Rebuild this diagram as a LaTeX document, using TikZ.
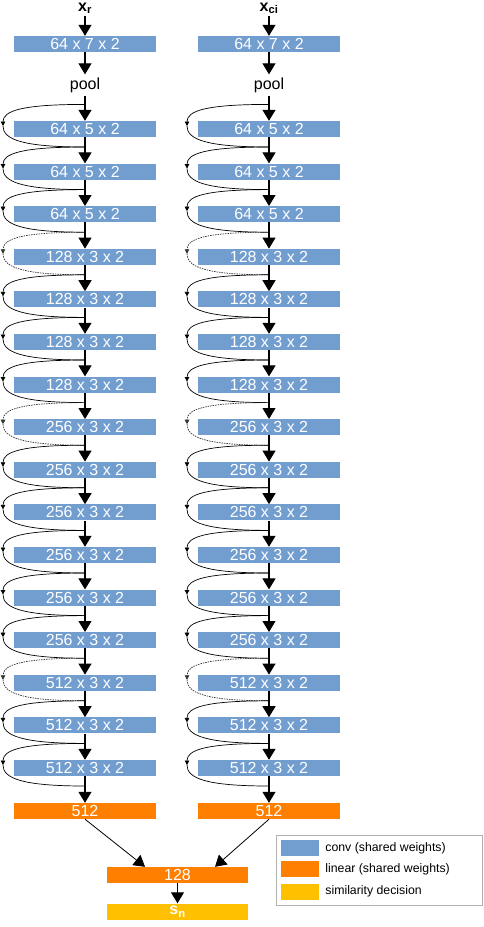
\documentclass[tikz,border=0pt]{standalone}
\usepackage{fontspec}
\setmainfont{Liberation Sans}
\usetikzlibrary{arrows.meta,calc,positioning}
\definecolor{conv}{RGB}{114,157,207}
\definecolor{lin}{RGB}{255,128,0}
\definecolor{decide}{RGB}{255,192,0}

\begin{document}
\begin{tikzpicture}[x=1pt,y=-1pt,
 layer/.style={minimum width=142pt,minimum height=16pt,inner sep=0pt,text=white,font=\fontsize{16}{18}\selectfont},
 txt/.style={font=\fontsize{16}{18}\selectfont},
 keytxt/.style={font=\fontsize{12.3}{14}\selectfont,inner sep=0pt},
 key/.style={minimum width=38pt,minimum height=16pt,inner sep=0pt},
 flow/.style={line width=1.1pt,-{Triangle[length=11pt,width=13pt]}},
 skip/.style={line width=0.7pt},
 proj/.style={skip,black!80,dash pattern=on 1.5pt off 1pt},
 turn/.style={-{Triangle[length=4.5pt,width=4.5pt]}}]
\useasboundingbox (0,0) rectangle (484,927);

% residual shortcuts, drawn first so the layers sit on top
\foreach \col/\x in {l/85,r/269}
 \foreach \st [count=\k] in {skip,skip,skip,proj,skip,skip,skip,proj,skip,skip,skip,skip,skip,proj,skip,skip}{
  \pgfmathsetmacro\y{129+42.6*(\k-1)}
  \coordinate (\col\k-from) at (\x,\y-24.6);
  \coordinate (\col\k-turn) at (\x-82,\y-3);
  \coordinate (\col\k-to) at (\x,\y+18);
  \draw[\st,turn] (\col\k-from) .. controls +(-64,0) and +(0,-15) .. (\col\k-turn);
  \draw[\st] (\col\k-turn) .. controls +(0,13) and +(-64,0) .. (\col\k-to);
 }

% the two branches
\foreach \col/\x/\sub in {l/85/r,r/269/ci}{
 \node[txt,anchor=base,inner sep=2pt] (\col src) at (\x,11) {\textbf{x\textsubscript{\sub}}};
 \node[layer,fill=conv] (\col stem) at (\x,44) {64 x 7 x 2};
 \node[txt,inner sep=3pt] (\col pool) at (\x,85) {pool};
 \foreach \ch/\kw [count=\k] in {64/5,64/5,64/5,128/3,128/3,128/3,128/3,256/3,256/3,256/3,256/3,256/3,256/3,512/3,512/3,512/3}
  \node[layer,fill=conv] (\col\k) at (\x,{129+42.6*(\k-1)}) {\ch\ x \kw\ x 2};
 \node[layer,fill=lin] (\col fc) at (\x,811) {512};
 \draw[flow] (\col src.south) -- (\col stem.north);
 \draw[flow] (\col stem.south) -- (\col pool.north);
 \draw[flow] (\col pool.south) -- (\col1.north);
 \foreach \k [count=\n from 2] in {1,...,15}
  \draw[flow] (\col\k.south) -- (\col\n.north);
 \draw[flow] (\col16.south) -- (\col fc.north);
}

% joint head
\node[layer,fill=lin,minimum width=141pt] (merge) at (177.5,875) {128};
\node[layer,fill=decide,minimum width=141pt] (sim) at (177.5,911.5) {\textbf{s\textsubscript{n}}};
\draw[flow,line width=0.8pt] (lfc.south) -- ($(merge.north)+(-32.5,0)$);
\draw[flow,line width=0.8pt] (rfc.south) -- ($(merge.north)+(37.5,0)$);
\draw[flow] (merge.south) -- (sim.north);

% legend
\node[draw=gray!60,line width=0.7pt,minimum width=206pt,minimum height=70pt,inner sep=0pt] (legend) at (379,870) {};
\node[key,fill=conv] (kconv) at (300,848) {};
\node[key,fill=lin,below=5pt of kconv] (klin) {};
\node[key,fill=decide,below=6pt of klin] (kdec) {};
\node[keytxt,right=6pt of kconv] (tconv) {conv (shared weights)};
\node[keytxt,right=6pt of klin] (tlin) {linear (shared weights)};
\node[keytxt,right=6pt of kdec] (tdec) {similarity decision};
\end{tikzpicture}
\end{document}
